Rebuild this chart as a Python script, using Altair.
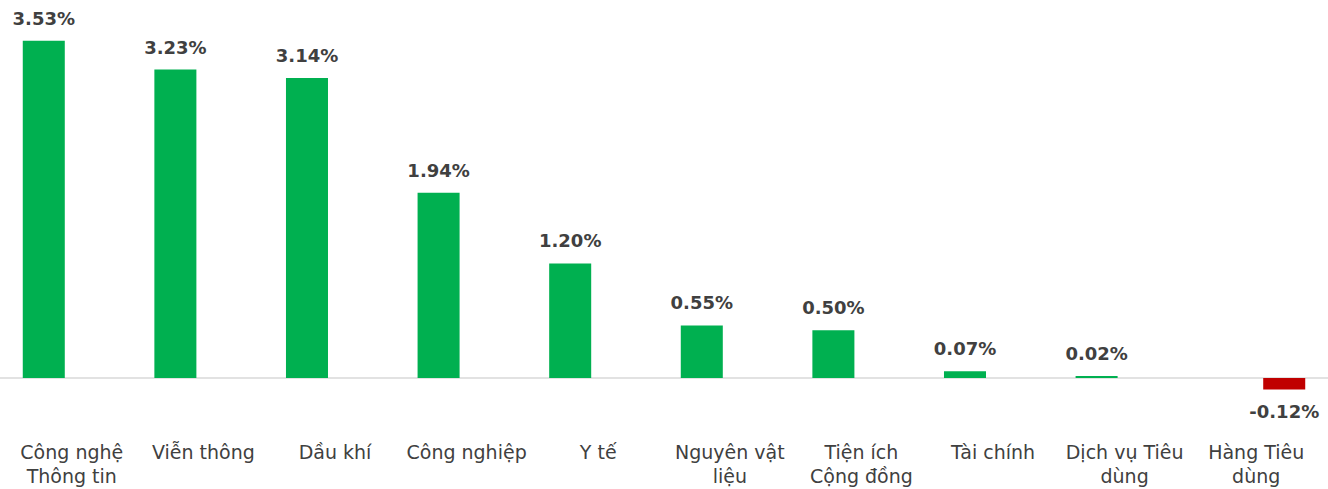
import altair as alt
import pandas as pd

categories = ["Công nghệ|Thông tin", "Viễn thông", "Dầu khí", "Công nghiệp", "Y tế",
              "Nguyên vật|liệu", "Tiện ích|Cộng đồng", "Tài chính", "Dịch vụ Tiêu|dùng", "Hàng Tiêu|dùng"]
values = [3.53, 3.23, 3.14, 1.94, 1.20, 0.55, 0.50, 0.07, 0.02, -0.12]

df = pd.DataFrame({
    "cat": categories,
    "val": values,
    "series": ["pos" if v >= 0 else "neg" for v in values],
    "label": [f"{v:.2f}%" for v in values],
})

FONT = "DejaVu Sans"
x = alt.X("cat:N", sort=categories,
          scale=alt.Scale(paddingInner=0.255, paddingOuter=0.173),
          axis=alt.Axis(title=None, labelExpr="split(datum.value, '|')", domain=False, ticks=False,
                        labelAngle=0, labelFont=FONT, labelFontSize=19, labelColor="#404040",
                        labelPadding=52, labelLineHeight=24, labelBaseline="middle"))
xo = alt.XOffset("series:N", scale=alt.Scale(domain=["pos", "neg"], paddingInner=0.25, paddingOuter=0))
y = alt.Y("val:Q", scale=alt.Scale(domain=[-0.2304, 3.958], nice=False, zero=False), axis=None)

base = alt.Chart(df)
bars = base.mark_bar().encode(
    x=x, xOffset=xo, y=y, y2=alt.datum(0),
    color=alt.Color("series:N", scale=alt.Scale(domain=["pos", "neg"], range=["#00B050", "#C00000"]), legend=None),
)
zero = alt.Chart(pd.DataFrame({"z": [0]})).mark_rule(color="#D9D9D9", strokeWidth=1.5).encode(
    y=alt.Y("z:Q", scale=alt.Scale(domain=[-0.2304, 3.958], nice=False, zero=False), axis=None))
pos_text = base.transform_filter("datum.val >= 0").mark_text(
    font=FONT, fontSize=18, fontWeight="bold", color="#404040", baseline="bottom", dy=-12).encode(
    x=x, xOffset=xo, y=y, text="label:N")
neg_text = base.transform_filter("datum.val < 0").mark_text(
    font=FONT, fontSize=18, fontWeight="bold", color="#404040", baseline="top", dy=15).encode(
    x=x, xOffset=xo, y=y, text="label:N")

chart = alt.layer(zero, bars, pos_text, neg_text).properties(
    width=1328, height=400,
    autosize=alt.AutoSizeParams(type="none"),
    padding={"left": 0, "top": 0, "right": 0, "bottom": 89},
).configure_view(stroke=None)

chart.save("out.html", embed_options={"renderer": "svg", "actions": False})
